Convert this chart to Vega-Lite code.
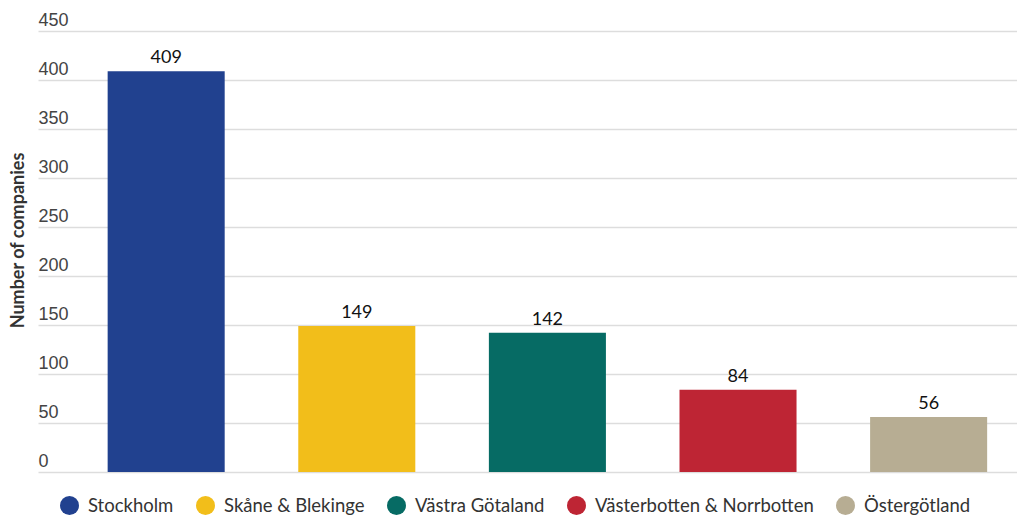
{
  "$schema": "https://vega.github.io/schema/vega-lite/v6.json",
  "width": 979,
  "height": 441,
  "autosize": "none",
  "padding": {"left": 38, "top": 31, "right": 0, "bottom": 44},
  "background": "white",
  "config": {
    "view": {"stroke": null},
    "font": "Lato"
  },
  "data": {
    "values": [
      {"region": "Stockholm", "companies": 409},
      {"region": "Skåne & Blekinge", "companies": 149},
      {"region": "Västra Götaland", "companies": 142},
      {"region": "Västerbotten & Norrbotten", "companies": 84},
      {"region": "Östergötland", "companies": 56}
    ]
  },
  "encoding": {
    "x": {
      "field": "region",
      "type": "nominal",
      "sort": null,
      "scale": {"paddingInner": 0.386, "paddingOuter": 0.261, "align": 0.7},
      "axis": null
    },
    "y": {
      "field": "companies",
      "type": "quantitative",
      "scale": {"domain": [0, 450]},
      "axis": {
        "values": [0, 50, 100, 150, 200, 250, 300, 350, 400, 450],
        "title": "Number of companies",
        "titleFont": "Lato",
        "titleFontSize": 18,
        "titleFontWeight": "bold",
        "titleColor": "#333333",
        "titleX": -20,
        "titleY": 209,
        "titleAngle": -90,
        "titleAlign": "center",
        "titleBaseline": "middle",
        "domain": false,
        "ticks": false,
        "tickSize": 0,
        "labelPadding": 0,
        "labelAlign": "left",
        "labelBaseline": "alphabetic",
        "labelOffset": -6,
        "labelFont": "Liberation Sans",
        "labelFontSize": 18,
        "labelColor": "#444444",
        "grid": true,
        "gridColor": "#dddddd",
        "gridWidth": 1.5
      }
    }
  },
  "layer": [
    {
      "mark": {"type": "bar"},
      "encoding": {
        "color": {
          "field": "region",
          "type": "nominal",
          "sort": null,
          "scale": {
            "domain": ["Stockholm", "Skåne & Blekinge", "Västra Götaland", "Västerbotten & Norrbotten", "Östergötland"],
            "range": ["#21418f", "#f2be1a", "#066b64", "#be2534", "#b7ad93"]
          },
          "legend": {
            "title": null,
            "orient": "none",
            "direction": "horizontal",
            "legendX": 22,
            "legendY": 465,
            "padding": 0,
            "symbolType": "circle",
            "symbolSize": 361,
            "symbolStrokeWidth": 0,
            "labelFont": "Lato",
            "labelFontSize": 18.5,
            "labelLimit": 0,
            "labelColor": "#333333",
            "labelOffset": 9,
            "columnPadding": 22
          }
        }
      }
    },
    {
      "mark": {"type": "text", "baseline": "bottom", "dy": -4, "fontSize": 18, "font": "Lato", "color": "#111111"},
      "encoding": {
        "text": {"field": "companies", "type": "quantitative"}
      }
    }
  ]
}
